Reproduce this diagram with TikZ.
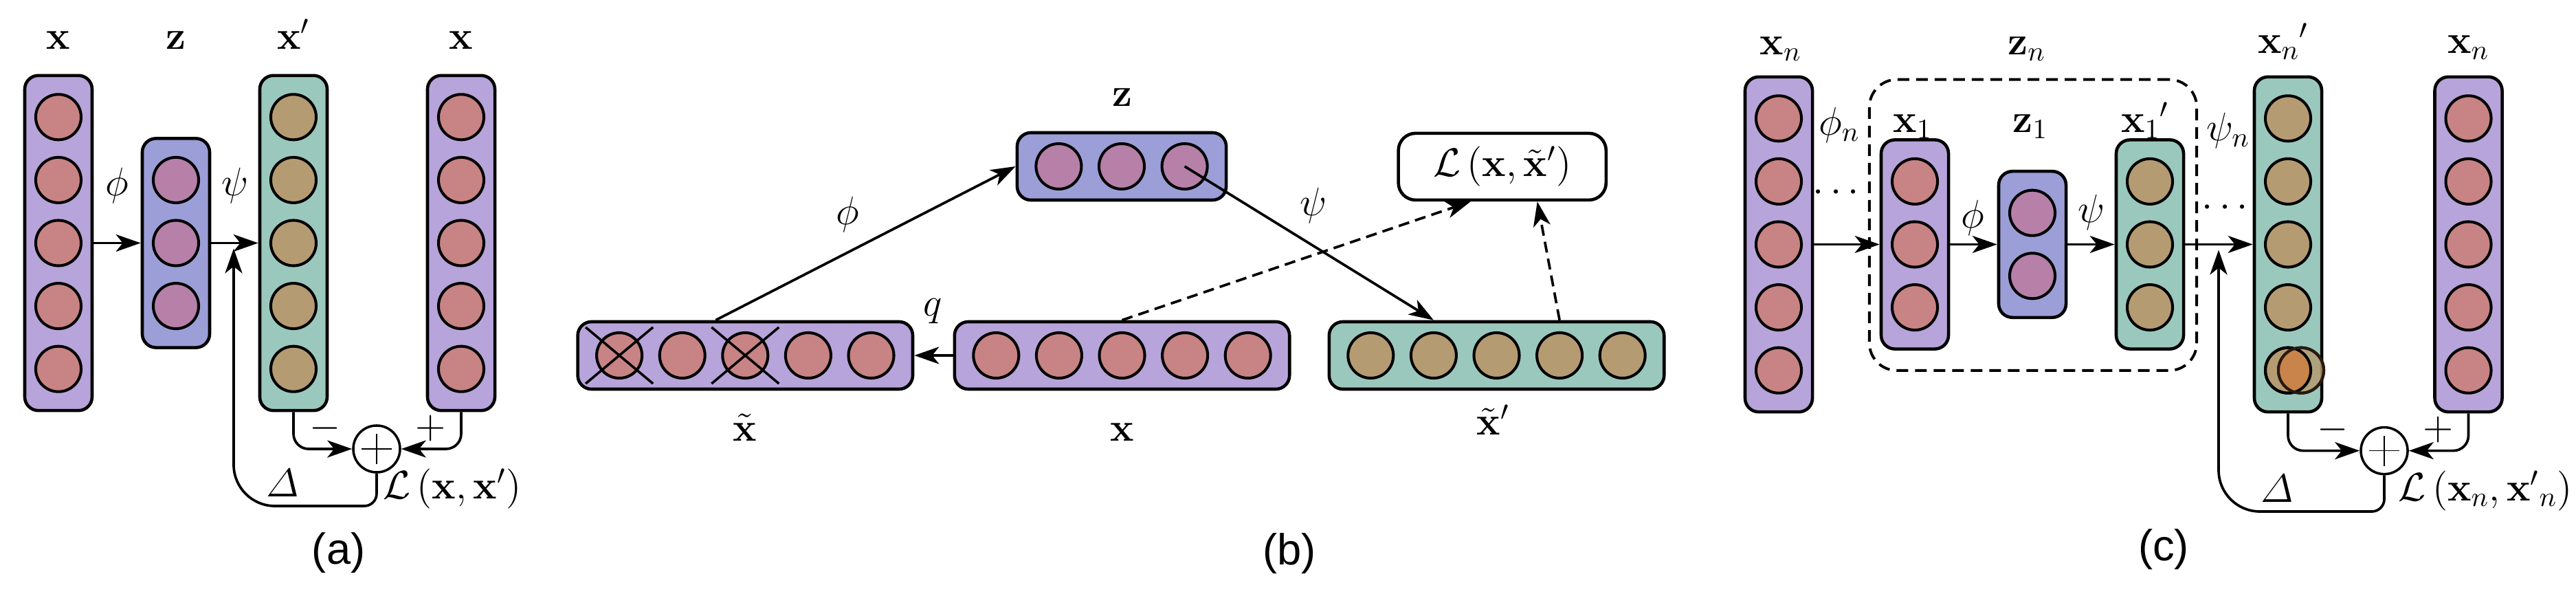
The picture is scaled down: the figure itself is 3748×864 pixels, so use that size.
\RequirePackage{fix-cm}
\documentclass[tikz,border=0pt]{standalone}
\usepackage{amsmath}
\usepackage[no-math]{fontspec}
\newfontfamily\labfont{Liberation Sans}
\usetikzlibrary{arrows.meta}
\definecolor{pbg}{HTML}{B7A4DA}
\definecolor{rc}{HTML}{C88385}
\definecolor{zbg}{HTML}{9C9ED8}
\definecolor{zc}{HTML}{B680A8}
\definecolor{tbg}{HTML}{9BC8BD}
\definecolor{tc}{HTML}{B49B72}
\definecolor{oc}{HTML}{C8844A}
\tikzset{
  colbox/.style={draw, line width=1.3pt, rounded corners=0.2cm, inner sep=0pt},
  neuron/.style={circle, draw, line width=1.15pt, minimum size=0.66cm, inner sep=0pt},
  arr/.style={-{Stealth[length=0.36cm,width=0.25cm,inset=0.1cm]}, line width=1.05pt},
  dasharr/.style={arr, dash pattern=on 0.16cm off 0.09cm},
  lbl/.style={inner sep=0pt, font=\fontsize{16.5}{19}\selectfont},
  sumnode/.style={circle, draw, line width=1pt, minimum size=0.68cm, inner sep=0pt},
  thinline/.style={line width=0.5pt},
  crossline/.style={line width=1pt},
  panel/.style={inner sep=0pt, font=\labfont\fontsize{18}{21}\selectfont}
}
\newcommand\vcol[6]{%
  \node[colbox, fill=#5, minimum width=0.98cm, minimum height={(91.6*(#4-1)+121)*0.01cm}] (#1) at (#2,#3) {};
  \foreach \i in {1,...,#4}{\node[neuron, fill=#6] (#1-\i) at (#2,{#3+91.6*(\i-(#4+1)/2)}) {};}
}
\newcommand\hcol[6]{%
  \node[colbox, fill=#5, minimum height=0.98cm, minimum width={(91.6*(#4-1)+121)*0.01cm}] (#1) at (#2,#3) {};
  \foreach \i in {1,...,#4}{\node[neuron, fill=#6] (#1-\i) at ({#2+91.6*(\i-(#4+1)/2)},#3) {};}
}
\begin{document}
\begin{tikzpicture}[x=0.01cm, y=-0.01cm]
\useasboundingbox (0,0) rectangle (3748,864);

% ---------------- (a) ----------------
\vcol{ax}{85}{353.5}{5}{pbg}{rc}
\vcol{az}{256}{353.5}{3}{zbg}{zc}
\vcol{axp}{427}{353.5}{5}{tbg}{tc}
\vcol{axr}{671}{353.5}{5}{pbg}{rc}
\node[lbl, anchor=base] (ax-l) at (85,72) {$\mathbf{x}$};
\node[lbl, anchor=base] (az-l) at (256,72) {$\mathbf{z}$};
\node[lbl, anchor=base] (axp-l) at (427,72) {$\mathbf{x}'$};
\node[lbl, anchor=base] (axr-l) at (671,72) {$\mathbf{x}$};
\node[lbl] (a-phi) at (170,270) {$\phi$};
\node[lbl] (a-psi) at (342,270) {$\psi$};
\draw[arr] (ax) -- (az);
\draw[arr] (az) -- (axp);
\node[sumnode] (asum) at (548,653) {};
\draw[thinline] ([xshift=-0.22cm]asum.center) -- ([xshift=0.22cm]asum.center)
  ([yshift=-0.22cm]asum.center) -- ([yshift=0.22cm]asum.center);
\draw[arr, rounded corners=0.22cm] (axp.south) |- (asum.west);
\draw[arr, rounded corners=0.22cm] (axr.south) |- (asum.east);
\node[lbl] (a-minus) at (473.5,622.6) {$-$};
\node[lbl] (a-plus) at (626.6,622.6) {$+$};
\coordinate (aj) at (340,353.5);
\coordinate (abot) at (340,736);
\draw[arr] (asum.south) [rounded corners=0.18cm] -- (asum.south |- abot) [rounded corners=0.6cm] -- (abot) -- ([yshift=-0.08cm]aj);
\node[lbl] (a-delta) at (411,702.5) {$\varDelta$};
\node[lbl] (a-loss) at (657.7,711) {$\mathcal{L}\,(\mathbf{x},\mathbf{x}')$};
\node[panel] (a-cap) at (492.6,804.5) {(a)};

% ---------------- (b) ----------------
\hcol{bz}{1632}{242}{3}{zbg}{zc}
\hcol{bxt}{1084.3}{517}{5}{pbg}{rc}
\hcol{bx}{1632.5}{517}{5}{pbg}{rc}
\hcol{bxtp}{2177.5}{517}{5}{tbg}{tc}
\foreach \k in {1,3}{
  \draw[crossline] ([shift={(-0.49cm,0.41cm)}]bxt-\k.center) -- ([shift={(0.49cm,-0.41cm)}]bxt-\k.center)
    ([shift={(-0.49cm,-0.41cm)}]bxt-\k.center) -- ([shift={(0.49cm,0.41cm)}]bxt-\k.center);
}
\node[draw, fill=white, line width=1.3pt, rounded corners=0.25cm, minimum width=3.02cm, minimum height=0.97cm, inner sep=0pt, font=\fontsize{16.5}{19}\selectfont] (bL) at (2185.7,242.4) {$\mathcal{L}\,(\mathbf{x},\tilde{\mathbf{x}}')$};
\node[lbl, anchor=base] (bz-l) at (1632.7,154.5) {$\mathbf{z}$};
\node[lbl, anchor=base] (bxt-l) at (1084,641) {$\tilde{\mathbf{x}}$};
\node[lbl, anchor=base] (bx-l) at (1632.7,641) {$\mathbf{x}$};
\node[lbl, anchor=base] (bxtp-l) at (2172.4,633) {$\tilde{\mathbf{x}}'$};
\draw[arr] (bx) -- (bxt);
\node[lbl] (b-q) at (1357,452.7) {$q$};
\draw[arr] ([xshift=-0.43cm]bxt.north) -- (bz.west);
\node[lbl] (b-phi) at (1232.8,312) {$\phi$};
\draw[arr] (bz-3.center) -- (bxtp-2 |- bxtp.north);
\node[lbl] (b-psi) at (1910.7,298.7) {$\psi$};
\draw[dasharr] (bx.north) -- ([xshift=-0.46cm]bL.south);
\draw[dasharr] (bxtp-4 |- bxtp.north) -- ([xshift=0.51cm]bL.south);
\node[panel] (b-cap) at (1876,805) {(b)};

% ---------------- (c) ----------------
\vcol{cxn}{2588}{355.5}{5}{pbg}{rc}
\node[draw, line width=1.1pt, rounded corners=0.4cm, dash pattern=on 0.17cm off 0.1cm, minimum width=4.76cm, minimum height=4.23cm, inner sep=0pt] (cbox) at (2958,327.3) {};
\vcol{cx1}{2786}{355.5}{3}{pbg}{rc}
\vcol{cz1}{2957}{355.5}{2}{zbg}{zc}
\vcol{cx1p}{3128}{355.5}{3}{tbg}{tc}
\vcol{cxnp}{3329}{355.5}{5}{tbg}{tc}
\vcol{cxnr}{3591.5}{355.5}{5}{pbg}{rc}
\node[neuron, fill=tc, fill opacity=0.85] (cov) at (3348,538.7) {};
\begin{scope}
  \clip (cxnp-5.center) circle (0.33cm);
  \fill[oc] (cov.center) circle (0.33cm);
\end{scope}
\draw[line width=1.15pt] (cxnp-5.center) circle (0.33cm);
\draw[line width=1.15pt, draw=black!80!oc] (cov.center) circle (0.33cm);
\node[lbl, anchor=base] (cxn-l) at (2591,80) {$\mathbf{x}_n$};
\node[lbl, anchor=base] (cbox-l) at (2949,80) {$\mathbf{z}_n$};
\node[lbl, anchor=base] (cx1-l) at (2783,193) {$\mathbf{x}_1$};
\node[lbl, anchor=base] (cz1-l) at (2954,193) {$\mathbf{z}_1$};
\node[lbl, anchor=base] (cx1p-l) at (3121,193) {$\mathbf{x}_1{}'$};
\node[lbl, anchor=base] (cxnp-l) at (3322,78) {$\mathbf{x}_n{}'$};
\node[lbl, anchor=base] (cxnr-l) at (3591.5,78) {$\mathbf{x}_n$};
\node[lbl] (c-phin) at (2676,182) {$\phi_n$};
\node[lbl] (c-psin) at (3242,190) {$\psi_n$};
\node[lbl] (c-dots1) at (2676,281) {$\cdots$};
\node[lbl] (c-dots2) at (3242,303) {$\cdots$};
\node[lbl] (c-phi) at (2870,317) {$\phi$};
\node[lbl] (c-psi) at (3043,308.5) {$\psi$};
\draw[arr] (cxn) -- (cx1);
\draw[arr] (cx1) -- (cz1);
\draw[arr] (cz1) -- (cx1p);
\draw[arr] (cx1p) -- (cxnp);
\node[sumnode] (csum) at (3469,655.6) {};
\draw[thinline] ([xshift=-0.22cm]csum.center) -- ([xshift=0.22cm]csum.center)
  ([yshift=-0.22cm]csum.center) -- ([yshift=0.22cm]csum.center);
\draw[arr, rounded corners=0.22cm] (cxnp.south) |- (csum.west);
\draw[arr, rounded corners=0.22cm] (cxnr.south) |- (csum.east);
\node[lbl] (c-minus) at (3394,625) {$-$};
\node[lbl] (c-plus) at (3548,625) {$+$};
\coordinate (cj) at (3228,355.5);
\coordinate (cbot) at (3228,744);
\draw[arr] (csum.south) [rounded corners=0.18cm] -- (csum.south |- cbot) [rounded corners=0.6cm] -- (cbot) -- ([yshift=-0.08cm]cj);
\node[lbl] (c-delta) at (3313.6,711) {$\varDelta$};
\node[lbl] (c-loss) at (3616,713.5) {$\mathcal{L}\,(\mathbf{x}_n,\mathbf{x}'{}_n)$};
\node[panel] (c-cap) at (3148,799) {(c)};
\end{tikzpicture}
\end{document}
